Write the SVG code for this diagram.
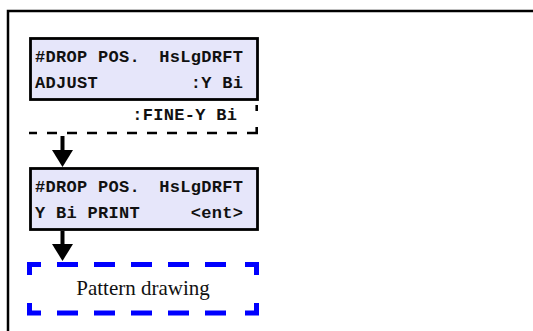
<svg xmlns="http://www.w3.org/2000/svg" width="533" height="331" viewBox="0 0 533 331">
  <defs>
    <style>
      .frame { fill: none; stroke: #000; stroke-width: 2.5; }
      .lcd { fill: #e6e6fa; stroke: #000; stroke-width: 2.8; }
      .mono { font-family: "Liberation Mono", "DejaVu Sans Mono", monospace; font-weight: bold; font-size: 17px; letter-spacing: 0.3px; fill: #111; }
      .end { text-anchor: end; }
      .bdash { fill: none; stroke: #000; stroke-width: 2.6; }
      .blue { fill: none; stroke: #0000ff; stroke-width: 5; stroke-linejoin: miter; }
      .serif { font-family: "Liberation Serif", "Times New Roman", serif; font-size: 21px; fill: #111; text-anchor: middle; }
      .shaft { stroke: #000; stroke-width: 4; fill: none; }
    </style>
    <marker id="arrowhead" markerUnits="userSpaceOnUse" viewBox="0 -10.5 17 21" refX="1" refY="0" markerWidth="17" markerHeight="21" orient="auto">
      <path d="M0,-10.5 L17,0 L0,10.5 Z" fill="#000"/>
    </marker>
  </defs>
  <rect width="533" height="331" fill="#fff"/>
  <path class="frame" d="M8,340 V11 H540"/>

  <g id="node-adjust">
    <rect class="lcd" x="30.5" y="38.5" width="227" height="61"/>
    <text class="mono" x="35" y="62">#DROP POS.</text>
    <text class="mono end" x="243.3" y="62">HsLgDRFT</text>
    <text class="mono" x="35" y="88">ADJUST</text>
    <text class="mono end" x="243.3" y="88">:Y Bi</text>
  </g>

  <g id="node-fine">
    <text class="mono end" x="237.3" y="119.5">:FINE-Y Bi</text>
    <path class="bdash" d="M256.7,105 V111"/>
    <path class="bdash" d="M256.7,127 V133 H247"/>
    <path class="bdash" d="M237,133 H29" stroke-dasharray="10 10"/>
  </g>

  <g id="node-print">
    <rect class="lcd" x="30.5" y="168.5" width="227" height="61"/>
    <text class="mono" x="35" y="192">#DROP POS.</text>
    <text class="mono end" x="243.3" y="192">HsLgDRFT</text>
    <text class="mono" x="35" y="218">Y Bi PRINT</text>
    <text class="mono end" x="243.3" y="218">&lt;ent&gt;</text>
  </g>

  <g id="node-pattern">
    <path class="blue" d="M29.5,275 V264.5 H41"/>
    <path class="blue" d="M245,264.5 H256.5 V275"/>
    <path class="blue" d="M256.5,303 V313 H245"/>
    <path class="blue" d="M41,313 H29.5 V303"/>
    <path class="blue" d="M57,264.5 H229" stroke-dasharray="21 16"/>
    <path class="blue" d="M57,313 H229" stroke-dasharray="21 16"/>
    <text class="serif" x="143" y="295">Pattern drawing</text>
  </g>

  <g id="connectors">
    <path class="shaft" d="M62.5,136 V151" marker-end="url(#arrowhead)"/>
    <path class="shaft" d="M62.5,231 V245" marker-end="url(#arrowhead)"/>
  </g>
</svg>
